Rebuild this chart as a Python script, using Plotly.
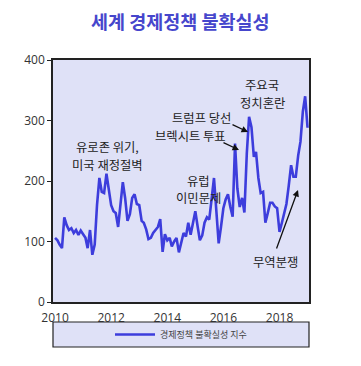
import plotly.graph_objects as go
import pandas as pd

months = pd.date_range("2010-01-01", "2019-01-01", freq="MS")
epu = [
    106, 102, 95, 89, 140, 127, 119, 122, 114, 119, 111, 118,   # 2010
    112, 106, 89, 119, 78, 95, 160, 205, 182, 180, 212, 190,    # 2011
    160, 150, 147, 124, 165, 198, 172, 134, 145, 172, 178, 162, # 2012
    160, 134, 131, 120, 104, 106, 114, 119, 124, 137, 83, 112,  # 2013
    102, 106, 92, 100, 106, 82, 100, 114, 108, 131, 111, 130,   # 2014
    150, 124, 102, 110, 131, 140, 136, 170, 205, 152, 97, 124,  # 2015
    155, 170, 178, 157, 141, 262, 188, 157, 172, 148, 245, 306, # 2016
    289, 240, 248, 205, 180, 182, 131, 147, 164, 164, 158, 155, # 2017
    116, 131, 147, 162, 192, 226, 207, 207, 242, 265, 315, 340, # 2018
    288,                                                        # 2019
]
title = "세계 경제정책 불확실성"
series_name = "경제정책 불확실성 지수"
y_ticks = [0, 100, 200, 300, 400]

KR = "Noto Sans CJK KR"
LINE = "#3d3ddc"

fig = go.Figure()
fig.add_trace(go.Scatter(x=months, y=epu, mode="lines", name=series_name,
                         line=dict(color=LINE, width=2.6)))

OFF = 8  # page body margin
W, H = 361 - OFF, 366 - OFF
PL, PT, PR, PB = 53, 60, 309, 302  # plot area in page pixels
L, T = PL - OFF, PT - OFF
pw, ph = PR - PL, PB - PT
R, B = W - L - pw, H - T - ph

def px(x):
    return (x - PL) / pw

def py(y):
    return (PB - y) / ph

def label(text, x, y, size=12.3, color="#222"):
    fig.add_annotation(text=text, x=px(x), y=py(y), xref="paper", yref="paper",
                       showarrow=False, font=dict(family=KR, size=size, color=color),
                       xanchor="center", yanchor="middle")

def arrow(x0, y0, x1, y1):
    fig.add_annotation(text="", x=px(x1), y=py(y1), xref="paper", yref="paper",
                       ax=x0 - x1, ay=y0 - y1, showarrow=True, arrowhead=2,
                       arrowsize=1, arrowwidth=1.3, arrowcolor="#111")

label("<b>" + title + "</b>", 180, 21, size=18.5, color="#4646cc")
label("유로존 위기,", 107, 147)
label("미국 재정절벽", 107, 165)
label("트럼프 당선", 201, 118)
label("브렉시트 투표", 190, 136)
label("유럽", 198, 181)
label("이민문제", 198, 198)
label("주요국", 262, 85)
label("정치혼란", 262, 103)
label("무역분쟁", 275, 262)
arrow(231, 124, 248, 132)
arrow(222, 142, 239, 150)
arrow(276, 250, 298, 190)

# legend frame
fig.add_shape(type="rect", xref="paper", yref="paper",
              x0=px(53), x1=px(309), y0=py(347), y1=py(322),
              line=dict(color="#222", width=1.2), fillcolor="#dfe1f7", layer="below")

fig.update_layout(
    width=W, height=H,
    margin=dict(l=L, r=R, t=T, b=B, autoexpand=False),
    paper_bgcolor="white",
    plot_bgcolor="#dfe1f7",
    showlegend=True,
    legend=dict(orientation="h", x=0.5, xanchor="center", y=py(334.5), yanchor="middle",
                bgcolor="rgba(0,0,0,0)", font=dict(family=KR, size=9, color="#444"),
                itemwidth=40),
    xaxis=dict(type="date", range=["2009-12-05", "2019-01-20"], dtick="M24",
               tick0="2010-01-01", tickformat="%Y", showgrid=False,
               showline=True, linecolor="#222", linewidth=1.5, mirror=True,
               ticks="", ticklabelstandoff=4,
               tickfont=dict(family="Open Sans", size=12, color="#333")),
    yaxis=dict(range=[0, 400], tickvals=y_ticks, showgrid=False,
               showline=True, linecolor="#222", linewidth=1.5, mirror=True,
               ticks="outside", ticklen=4, tickcolor="#222",
               tickfont=dict(family="Open Sans", size=12, color="#333"), zeroline=False),
)

fig.write_html("out.html")
